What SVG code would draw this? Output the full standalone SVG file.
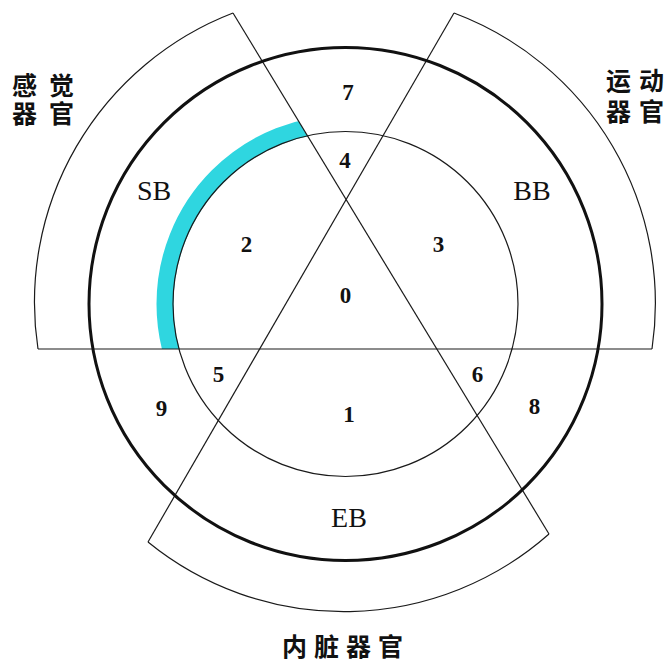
<svg xmlns="http://www.w3.org/2000/svg" width="672" height="665" viewBox="0 0 672 665">
<defs>
<style>
.thin{fill:none;stroke:#1a1a1a;stroke-width:1.2}
.thick{fill:none;stroke:#111;stroke-width:3}
.num{font-family:"Liberation Serif","Times New Roman",serif;font-size:23px;font-weight:bold;fill:#111;text-anchor:middle}
.lab{font-family:"Liberation Serif","Times New Roman",serif;font-size:28px;fill:#111;text-anchor:middle}
.cn{font-family:"Noto Sans CJK SC","Noto Sans CJK JP",sans-serif;font-size:25px;font-weight:bold;fill:#111}
</style>
<clipPath id="leftWedge">
<polygon points="436.8,349 0,349 0,0 225.1,0"/>
</clipPath>
</defs>
<rect width="672" height="665" fill="#fff"/>
<g id="highlight">
<circle cx="345.5" cy="304" r="180.5" fill="none" stroke="#2fd6e0" stroke-width="17" clip-path="url(#leftWedge)"/>
</g>
<g id="sectors">
<path id="sector-sensory" class="thin" d="M38,349 A310,310 0 0 1 233,13"/>
<path id="sector-motor" class="thin" d="M454,13 A310,310 0 0 1 652,349"/>
<path id="sector-visceral" class="thin" d="M549,534 A310,310 0 0 1 148,542"/>
</g>
<g id="connectors">
<line class="thin" x1="38" y1="349" x2="652" y2="349"/>
<line class="thin" x1="233" y1="13" x2="549" y2="534"/>
<line class="thin" x1="454" y1="13" x2="148" y2="542"/>
</g>
<g id="circles">
<circle id="inner-circle" class="thin" cx="345.5" cy="304" r="172.5"/>
<circle id="outer-circle" class="thick" cx="345.5" cy="304" r="256.5"/>
</g>
<g id="labels">
<text class="num" x="348" y="100">7</text>
<text class="num" x="345" y="168">4</text>
<text class="lab" x="154" y="200">SB</text>
<text class="lab" x="532" y="200">BB</text>
<text class="num" x="246.5" y="252">2</text>
<text class="num" x="438.5" y="252">3</text>
<text class="num" x="345.5" y="303">0</text>
<text class="num" x="218.5" y="382">5</text>
<text class="num" x="477.5" y="382">6</text>
<text class="num" x="161.5" y="416">9</text>
<text class="num" x="534.5" y="414">8</text>
<text class="num" x="349" y="422">1</text>
<text class="lab" x="349" y="527">EB</text>
</g>
<g id="organ-labels">
<text class="cn" letter-spacing="12"><tspan x="12" y="95">感觉</tspan><tspan x="12" y="123">器官</tspan></text>
<text class="cn" letter-spacing="8"><tspan x="606" y="90">运动</tspan><tspan x="606" y="121">器官</tspan></text>
<text class="cn" x="282" y="656" letter-spacing="7">内脏器官</text>
</g>
</svg>
